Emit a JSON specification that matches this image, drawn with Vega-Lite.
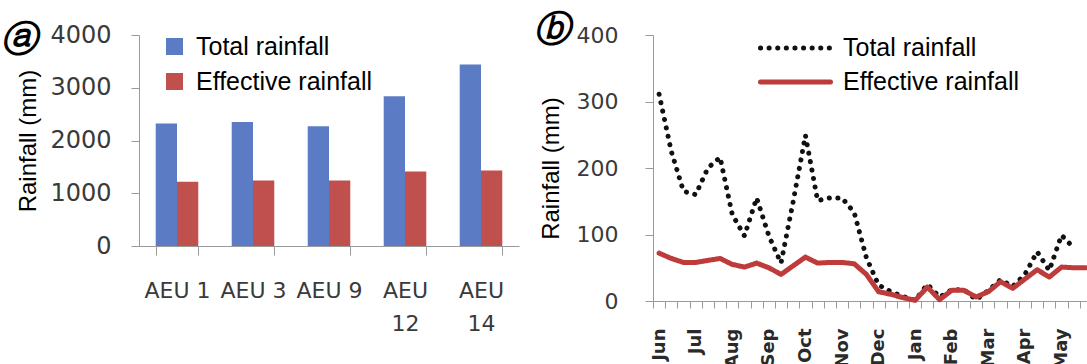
{
  "$schema": "https://vega.github.io/schema/vega-lite/v6.json",
  "background": "white",
  "padding": {"left": 0, "top": 12, "right": 0, "bottom": 0},
  "spacing": 15,
  "config": {
    "view": {"stroke": null},
    "axis": {
      "domainColor": "#9a9a9a",
      "tickColor": "#9a9a9a",
      "grid": false,
      "labelFont": "DejaVu Sans",
      "labelColor": "#3a3a3a",
      "titleFont": "Liberation Sans",
      "titleFontWeight": "normal",
      "titleColor": "black",
      "titleFontSize": 24
    }
  },
  "resolve": {"scale": {"color": "independent", "strokeDash": "independent", "x": "independent", "y": "independent"}, "legend": {"color": "independent", "strokeDash": "independent"}},
  "hconcat": [
    {
      "width": 380,
      "height": 211,
      "title": {"text": "ⓐ", "orient": "top", "anchor": "start", "frame": "bounds", "offset": -36, "dx": -16, "font": "DejaVu Serif", "fontSize": 36, "fontStyle": "italic", "fontWeight": "bold", "color": "black"},
      "data": {
        "values": [
          {"aeu": "AEU 1", "series": "Total rainfall", "rainfall": 2320},
          {"aeu": "AEU 1", "series": "Effective rainfall", "rainfall": 1220},
          {"aeu": "AEU 3", "series": "Total rainfall", "rainfall": 2350},
          {"aeu": "AEU 3", "series": "Effective rainfall", "rainfall": 1240},
          {"aeu": "AEU 9", "series": "Total rainfall", "rainfall": 2270},
          {"aeu": "AEU 9", "series": "Effective rainfall", "rainfall": 1240},
          {"aeu": "AEU 12", "series": "Total rainfall", "rainfall": 2840},
          {"aeu": "AEU 12", "series": "Effective rainfall", "rainfall": 1410},
          {"aeu": "AEU 14", "series": "Total rainfall", "rainfall": 3440},
          {"aeu": "AEU 14", "series": "Effective rainfall", "rainfall": 1430}
        ]
      },
      "mark": {"type": "bar"},
      "encoding": {
        "x": {
          "field": "aeu", "type": "nominal", "sort": null,
          "scale": {"paddingInner": 0.44, "paddingOuter": 0.22},
          "axis": {"title": null, "labelAngle": 0, "labelFontSize": 22, "labelPadding": 25, "labelLineHeight": 33, "labelBaseline": "top", "tickSize": 9, "tickBand": "extent", "labelExpr": "length(datum.label) > 5 ? split(datum.label, ' ') : datum.label"}
        },
        "xOffset": {"field": "series", "type": "nominal", "sort": ["Total rainfall", "Effective rainfall"]},
        "y": {
          "field": "rainfall", "type": "quantitative",
          "scale": {"domain": [0, 4000]},
          "axis": {"title": "Rainfall (mm)", "values": [0, 1000, 2000, 3000, 4000], "format": "d", "labelFontSize": 24, "labelPadding": 20, "tickSize": 8, "titlePadding": 9}
        },
        "color": {
          "field": "series", "type": "nominal",
          "scale": {"domain": ["Total rainfall", "Effective rainfall"], "range": ["#5B7CC4", "#C0504D"]},
          "legend": {"orient": "none", "legendX": 23, "legendY": -1, "title": null, "symbolType": "square", "symbolSize": 289, "symbolStrokeWidth": 0, "labelFont": "Liberation Sans", "labelFontSize": 25, "labelColor": "black", "labelOffset": 9, "rowPadding": 9, "labelLimit": 400}
        }
      }
    },
    {
      "width": 439,
      "height": 266,
      "title": {"text": "ⓑ", "orient": "top", "anchor": "start", "frame": "bounds", "offset": -25, "dx": -5, "font": "DejaVu Serif", "fontSize": 36, "fontStyle": "italic", "fontWeight": "bold", "color": "black"},
      "data": {
        "values": [
          {"i": 0, "dekad": "Jun 1", "series": "Total rainfall", "rainfall": 311},
          {"i": 0, "dekad": "Jun 1", "series": "Effective rainfall", "rainfall": 72},
          {"i": 1, "dekad": "Jun 2", "series": "Total rainfall", "rainfall": 225},
          {"i": 1, "dekad": "Jun 2", "series": "Effective rainfall", "rainfall": 64},
          {"i": 2, "dekad": "Jun 3", "series": "Total rainfall", "rainfall": 165},
          {"i": 2, "dekad": "Jun 3", "series": "Effective rainfall", "rainfall": 58},
          {"i": 3, "dekad": "Jul 1", "series": "Total rainfall", "rainfall": 160},
          {"i": 3, "dekad": "Jul 1", "series": "Effective rainfall", "rainfall": 58},
          {"i": 4, "dekad": "Jul 2", "series": "Total rainfall", "rainfall": 200},
          {"i": 4, "dekad": "Jul 2", "series": "Effective rainfall", "rainfall": 61},
          {"i": 5, "dekad": "Jul 3", "series": "Total rainfall", "rainfall": 216},
          {"i": 5, "dekad": "Jul 3", "series": "Effective rainfall", "rainfall": 64},
          {"i": 6, "dekad": "Aug 1", "series": "Total rainfall", "rainfall": 130},
          {"i": 6, "dekad": "Aug 1", "series": "Effective rainfall", "rainfall": 55},
          {"i": 7, "dekad": "Aug 2", "series": "Total rainfall", "rainfall": 98},
          {"i": 7, "dekad": "Aug 2", "series": "Effective rainfall", "rainfall": 51},
          {"i": 8, "dekad": "Aug 3", "series": "Total rainfall", "rainfall": 155},
          {"i": 8, "dekad": "Aug 3", "series": "Effective rainfall", "rainfall": 57},
          {"i": 9, "dekad": "Sep 1", "series": "Total rainfall", "rainfall": 98},
          {"i": 9, "dekad": "Sep 1", "series": "Effective rainfall", "rainfall": 50},
          {"i": 10, "dekad": "Sep 2", "series": "Total rainfall", "rainfall": 57},
          {"i": 10, "dekad": "Sep 2", "series": "Effective rainfall", "rainfall": 40},
          {"i": 11, "dekad": "Sep 3", "series": "Total rainfall", "rainfall": 150},
          {"i": 11, "dekad": "Sep 3", "series": "Effective rainfall", "rainfall": 53},
          {"i": 12, "dekad": "Oct 1", "series": "Total rainfall", "rainfall": 249},
          {"i": 12, "dekad": "Oct 1", "series": "Effective rainfall", "rainfall": 66},
          {"i": 13, "dekad": "Oct 2", "series": "Total rainfall", "rainfall": 151},
          {"i": 13, "dekad": "Oct 2", "series": "Effective rainfall", "rainfall": 57},
          {"i": 14, "dekad": "Oct 3", "series": "Total rainfall", "rainfall": 155},
          {"i": 14, "dekad": "Oct 3", "series": "Effective rainfall", "rainfall": 58},
          {"i": 15, "dekad": "Nov 1", "series": "Total rainfall", "rainfall": 155},
          {"i": 15, "dekad": "Nov 1", "series": "Effective rainfall", "rainfall": 58},
          {"i": 16, "dekad": "Nov 2", "series": "Total rainfall", "rainfall": 133},
          {"i": 16, "dekad": "Nov 2", "series": "Effective rainfall", "rainfall": 56},
          {"i": 17, "dekad": "Nov 3", "series": "Total rainfall", "rainfall": 65},
          {"i": 17, "dekad": "Nov 3", "series": "Effective rainfall", "rainfall": 40},
          {"i": 18, "dekad": "Dec 1", "series": "Total rainfall", "rainfall": 24},
          {"i": 18, "dekad": "Dec 1", "series": "Effective rainfall", "rainfall": 14},
          {"i": 19, "dekad": "Dec 2", "series": "Total rainfall", "rainfall": 14},
          {"i": 19, "dekad": "Dec 2", "series": "Effective rainfall", "rainfall": 10},
          {"i": 20, "dekad": "Dec 3", "series": "Total rainfall", "rainfall": 7},
          {"i": 20, "dekad": "Dec 3", "series": "Effective rainfall", "rainfall": 5},
          {"i": 21, "dekad": "Jan 1", "series": "Total rainfall", "rainfall": 1},
          {"i": 21, "dekad": "Jan 1", "series": "Effective rainfall", "rainfall": 1},
          {"i": 22, "dekad": "Jan 2", "series": "Total rainfall", "rainfall": 25},
          {"i": 22, "dekad": "Jan 2", "series": "Effective rainfall", "rainfall": 21},
          {"i": 23, "dekad": "Jan 3", "series": "Total rainfall", "rainfall": 6},
          {"i": 23, "dekad": "Jan 3", "series": "Effective rainfall", "rainfall": 2},
          {"i": 24, "dekad": "Feb 1", "series": "Total rainfall", "rainfall": 17},
          {"i": 24, "dekad": "Feb 1", "series": "Effective rainfall", "rainfall": 16},
          {"i": 25, "dekad": "Feb 2", "series": "Total rainfall", "rainfall": 17},
          {"i": 25, "dekad": "Feb 2", "series": "Effective rainfall", "rainfall": 16},
          {"i": 26, "dekad": "Feb 3", "series": "Total rainfall", "rainfall": 2},
          {"i": 26, "dekad": "Feb 3", "series": "Effective rainfall", "rainfall": 6},
          {"i": 27, "dekad": "Mar 1", "series": "Total rainfall", "rainfall": 16},
          {"i": 27, "dekad": "Mar 1", "series": "Effective rainfall", "rainfall": 14},
          {"i": 28, "dekad": "Mar 2", "series": "Total rainfall", "rainfall": 32},
          {"i": 28, "dekad": "Mar 2", "series": "Effective rainfall", "rainfall": 29},
          {"i": 29, "dekad": "Mar 3", "series": "Total rainfall", "rainfall": 22},
          {"i": 29, "dekad": "Mar 3", "series": "Effective rainfall", "rainfall": 19},
          {"i": 30, "dekad": "Apr 1", "series": "Total rainfall", "rainfall": 40},
          {"i": 30, "dekad": "Apr 1", "series": "Effective rainfall", "rainfall": 33},
          {"i": 31, "dekad": "Apr 2", "series": "Total rainfall", "rainfall": 74},
          {"i": 31, "dekad": "Apr 2", "series": "Effective rainfall", "rainfall": 47},
          {"i": 32, "dekad": "Apr 3", "series": "Total rainfall", "rainfall": 46},
          {"i": 32, "dekad": "Apr 3", "series": "Effective rainfall", "rainfall": 36},
          {"i": 33, "dekad": "May 1", "series": "Total rainfall", "rainfall": 99},
          {"i": 33, "dekad": "May 1", "series": "Effective rainfall", "rainfall": 51},
          {"i": 34, "dekad": "May 2", "series": "Total rainfall", "rainfall": 80},
          {"i": 34, "dekad": "May 2", "series": "Effective rainfall", "rainfall": 50},
          {"i": 35, "dekad": "May 3", "series": "Effective rainfall", "rainfall": 50}
        ]
      },
      "mark": {"type": "line", "strokeWidth": 5, "strokeCap": "round", "strokeJoin": "round"},
      "encoding": {
        "x": {
          "field": "dekad", "type": "ordinal",
          "sort": ["Jun 1","Jun 2","Jun 3","Jul 1","Jul 2","Jul 3","Aug 1","Aug 2","Aug 3","Sep 1","Sep 2","Sep 3","Oct 1","Oct 2","Oct 3","Nov 1","Nov 2","Nov 3","Dec 1","Dec 2","Dec 3","Jan 1","Jan 2","Jan 3","Feb 1","Feb 2","Feb 3","Mar 1","Mar 2","Mar 3","Apr 1","Apr 2","Apr 3","May 1","May 2","May 3"],
          "scale": {"type": "band", "paddingInner": 0, "paddingOuter": 0},
          "axis": {"title": null, "labelAngle": 270, "labelAlign": "right", "labelBaseline": "middle", "labelFontSize": 18, "labelFontWeight": "bold", "labelColor": "#2a2a2a", "labelPadding": 20, "tickSize": 7, "tickBand": "extent", "labelOverlap": false, "labelExpr": "slice(datum.label, -1) == '1' ? slice(datum.label, 0, 3) : ''"}
        },
        "y": {
          "field": "rainfall", "type": "quantitative",
          "scale": {"domain": [0, 400]},
          "axis": {"title": "Rainfall (mm)", "values": [0, 100, 200, 300, 400], "format": "d", "labelFontSize": 22, "labelPadding": 27, "tickSize": 8, "titlePadding": 13}
        },
        "order": {"field": "i", "type": "quantitative"},
        "color": {
          "field": "series", "type": "nominal",
          "scale": {"domain": ["Total rainfall", "Effective rainfall"], "range": ["#111111", "#BE3B3B"]},
          "legend": {"orient": "none", "legendX": 105, "legendY": 1, "title": null, "symbolType": "stroke", "symbolSize": 4900, "symbolStrokeWidth": 5, "clipHeight": 24, "labelFont": "Liberation Sans", "labelFontSize": 25, "labelColor": "black", "labelOffset": 10, "rowPadding": 9, "labelLimit": 400, "encode": {"symbols": {"update": {"strokeCap": {"value": "round"}}}}}
        },
        "strokeDash": {
          "field": "series", "type": "nominal",
          "scale": {"domain": ["Total rainfall", "Effective rainfall"], "range": [[0.1, 8.5], [1, 0]]},
          "legend": {"orient": "none", "legendX": 105, "legendY": 1, "title": null, "symbolType": "stroke", "symbolSize": 4900, "symbolStrokeWidth": 5, "clipHeight": 24, "labelFont": "Liberation Sans", "labelFontSize": 25, "labelColor": "black", "labelOffset": 10, "rowPadding": 9, "labelLimit": 400, "encode": {"symbols": {"update": {"strokeCap": {"value": "round"}}}}}
        }
      }
    }
  ]
}
